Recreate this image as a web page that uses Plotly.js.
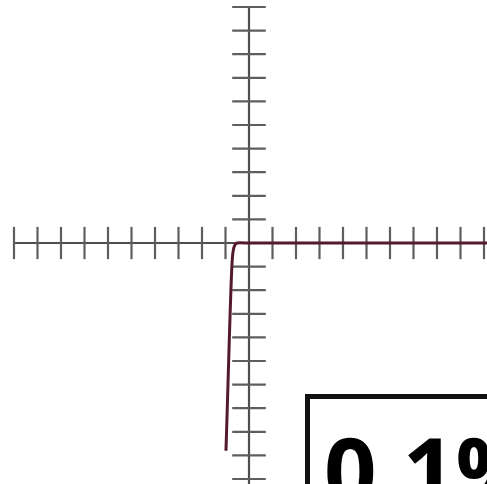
<!DOCTYPE html>
<html>
<head>
<meta charset="utf-8">
<script src="https://cdn.plot.ly/plotly-3.0.1.min.js"></script>
<style>html,body{margin:0;padding:0;background:#fff;overflow:hidden}#chart{width:487px;height:484px}</style>
</head>
<body>
<div id="chart"></div>
<script>
// Tick positions (unit = one tick spacing)
var xTicks = [-10,-9,-8,-7,-6,-5,-4,-3,-2,-1,1,2,3,4,5,6,7,8,9,10];
var yTicks = [10,9,8,7,6,5,4,3,2,1,-1,-2,-3,-4,-5,-6,-7,-8,-9,-10];
// Axis line extents
var xAxisX = [-10, 10.5];
var yAxisY = [10, -10.5];
// Curve
var curveX = [-0.98, -0.94, -0.88, -0.82, -0.77, -0.73, -0.69, -0.64, -0.58, -0.50, 0, 5, 10.5];
var curveY = [-8.8, -7.5, -5.5, -3.5, -2.0, -1.0, -0.45, -0.18, -0.05, 0, 0, 0, 0];
var boxLabel = "0.1%";

var tickColor = '#5e5e5e';
var traces = [
  {x: xAxisX, y: [0,0], mode:'lines', line:{color:'#4f4f4f', width:2.2}, hoverinfo:'skip'},
  {x: [0,0], y: yAxisY, mode:'lines', line:{color:'#4f4f4f', width:2.2}, hoverinfo:'skip'},
  {x: xTicks, y: xTicks.map(function(){return 0;}), mode:'markers',
   marker:{symbol:'line-ns', size:23, line:{color:tickColor, width:2.2}}, hoverinfo:'skip'},
  {x: yTicks.map(function(){return 0;}), y: yTicks, mode:'markers',
   marker:{symbol:'line-ew', size:24, line:{color:tickColor, width:2.2}}, hoverinfo:'skip'},
  {x: curveX, y: curveY, mode:'lines', line:{color:'#521a2b', width:3, shape:'spline', smoothing:0.6}, hoverinfo:'skip'}
];

var layout = {
  width:487, height:484,
  margin:{l:0,r:0,t:0,b:0},
  paper_bgcolor:'#fff', plot_bgcolor:'#fff',
  showlegend:false,
  xaxis:{range:[-249/23.5, 238/23.5], visible:false, fixedrange:true},
  yaxis:{range:[-241/23.6, 243/23.6], visible:false, fixedrange:true},
  shapes:[
    {type:'rect', xref:'paper', yref:'paper', x0:307.5/487, x1:1.2, y0:-0.2, y1:1-396.5/484,
     line:{color:'#111', width:5}, fillcolor:'#fff', layer:'above'}
  ],
  annotations:[
    {xref:'paper', yref:'paper', x:322/487, y:1-404/484, xanchor:'left', yanchor:'top',
     text:'<b>'+boxLabel+'</b>', showarrow:false,
     font:{family:'Open Sans, DejaVu Sans, sans-serif', size:92, color:'#000'}}
  ]
};
Plotly.newPlot('chart', traces, layout, {staticPlot:true, displayModeBar:false});
</script>
</body>
</html>
